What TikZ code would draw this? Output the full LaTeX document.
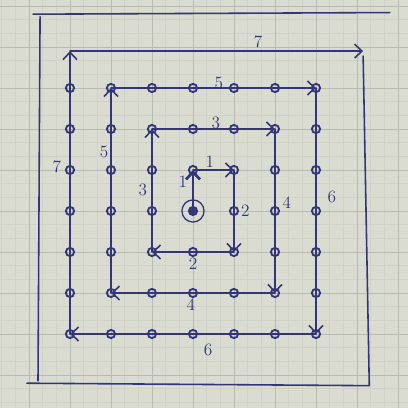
\documentclass[tikz,border=0pt]{standalone}
\usepackage{amsmath}
\usepackage{xcolor}
\usepackage{tikz}
\usetikzlibrary{arrows.meta}
\definecolor{ink}{RGB}{50,54,120}
\definecolor{paper}{RGB}{218,219,209}
\definecolor{fine}{RGB}{208,210,199}
\definecolor{rule}{RGB}{184,187,176}

\begin{document}
\begin{tikzpicture}[>={Straight Barb[length=1.8mm,width=3.4mm]},
  pen/.style={ink,line width=1.1pt,line cap=round},
  dot/.style={circle,draw=ink,line width=1.3pt,inner sep=0pt,minimum width=1.5mm,minimum height=2mm},
  num/.style={ink,font=\large}]
\useasboundingbox(-4.707,-4.805)rectangle(5.244,5.146);
% squared paper
\fill[paper](-4.707,-4.805)rectangle(5.244,5.146);
\draw[fine,line width=0.3pt,step=1/3](-4.707,-4.805)grid(5.244,5.146);
\draw[rule,line width=0.5pt,step=1](-4.707,-4.805)grid(5.244,5.146);
% dots
\foreach \i in {-3,...,3}
  \foreach \j in {-3,...,3}
    \node[dot](p\i\j)at(\i,\j){};
\fill[ink](p00)circle(0.08);
\node[circle,draw=ink,line width=0.9pt,minimum size=5.4mm](start)at(p00){};
\coordinate(t7)at(-3,3.9);
\coordinate(e7)at(4.15,3.9);
% spiral
\draw[pen,line width=1.9pt,->](p00.center)--(p01.center);
\draw[pen,->](p01.center)--(p11.center);
\draw[pen,->](p11.center)--(p1-1.center);
\draw[pen,->](p1-1.center)--(p-1-1.center);
\draw[pen,->](p-1-1.center)--(p-12.center);
\draw[pen,->](p-12.center)--(p22.center);
\draw[pen,->](p22.center)--(p2-2.center);
\draw[pen,->](p2-2.center)--(p-2-2.center);
\draw[pen,->](p-2-2.center)--(p-23.center);
\draw[pen,->](p-23.center)--(p33.center);
\draw[pen,->](p33.center)--(p3-3.center);
\draw[pen,->](p3-3.center)--(p-3-3.center);
\draw[pen,->](p-3-3.center)--(t7);
\draw[pen,->](t7)--(e7);
% frame
\coordinate(fa)at(-3.9,4.8);
\coordinate(fb)at(4.8,4.84);
\coordinate(fc)at(-3.73,4.74);
\coordinate(fd)at(-3.78,-4.14);
\coordinate(fe)at(-4.05,-4.2);
\coordinate(ff)at(4.3,-4.26);
\coordinate(fg)at(4.15,3.78);
\draw[pen](fa)--(fb);
\draw[pen](fc)--(fd);
\draw[pen](fe)--(ff);
\draw[pen](fg)--(ff);
% lengths
\node[num](l1a)at(-0.25,0.72){1};
\node[num](l1b)at(0.41,1.2){1};
\node[num](l2a)at(1.28,0){2};
\node[num](l2b)at(0,-1.28){2};
\node[num](l3a)at(-1.22,0.51){3};
\node[num](l3b)at(0.56,2.15){3};
\node[num](l4a)at(2.29,0.2){4};
\node[num](l4b)at(-0.05,-2.29){4};
\node[num](l5a)at(-2.17,1.44){5};
\node[num](l5b)at(0.63,3.12){5};
\node[num](l6a)at(3.39,0.34){6};
\node[num](l6b)at(0.37,-3.39){6};
\node[num](l7a)at(-3.32,1.07){7};
\node[num](l7b)at(1.59,4.12){7};
\end{tikzpicture}
\end{document}
